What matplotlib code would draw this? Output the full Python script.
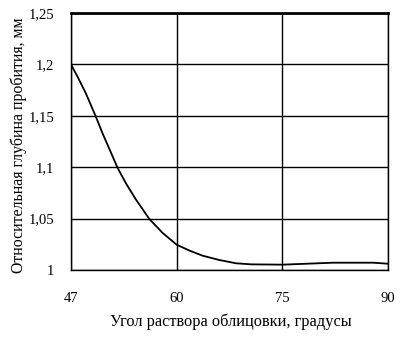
import numpy as np
import matplotlib
matplotlib.use("Agg")
import matplotlib.pyplot as plt
from matplotlib.ticker import FuncFormatter

# Data
angle = [47, 47.8, 48.82, 50.05, 50.87, 51.77, 52.74, 53.78, 55.01, 56.64,
         58.28, 60, 61.78, 63.69, 66.07, 68.45, 70.6, 75, 78.44, 82.2, 87.9, 90]
depth = [1.200, 1.1881, 1.1720, 1.1493, 1.1331, 1.1169, 1.0992, 1.0840,
         1.0683, 1.0496, 1.0360, 1.0246, 1.0190, 1.0139, 1.0097, 1.0065,
         1.0055, 1.0052, 1.0061, 1.0071, 1.0071, 1.0061]
x_ticks = [47, 60, 75, 90]
y_ticks = [1.0, 1.05, 1.1, 1.15, 1.2, 1.25]
x_label = "Угол раствора облицовки, градусы"
y_label = "Относительная глубина пробития, мм"

plt.rcParams['font.family'] = ['Liberation Serif', 'DejaVu Serif']

fig = plt.figure(figsize=(4.01, 3.54), dpi=100)
ax = fig.add_axes([71/401, 1 - 270/354, (388-71)/401, (270-13)/354])

pos = np.arange(len(x_ticks), dtype=float)
fwd = lambda v: np.interp(v, x_ticks, pos)
inv = lambda v: np.interp(v, pos, x_ticks)
ax.set_xscale('function', functions=(fwd, inv))

ax.plot(angle, depth, color='black', lw=1.3, solid_joinstyle='round')
ax.set_xlim(47, 90)
ax.set_ylim(1.0, 1.25)
ax.set_xticks(x_ticks)
ax.set_yticks(y_ticks)
ax.xaxis.set_major_formatter(FuncFormatter(lambda v, p: f"{v:g}"))
ax.yaxis.set_major_formatter(FuncFormatter(lambda v, p: f"{v:g}".replace('.', ',')))
ax.tick_params(length=0, labelsize=10.5)
ax.tick_params(axis='x', pad=16)
ax.tick_params(axis='y', pad=12)
ax.grid(True, color='black', lw=1)
for s in ax.spines.values():
    s.set_linewidth(1)
    s.set_color('black')
ax.spines['top'].set_linewidth(2)

ax.set_xlabel(x_label, fontsize=11.8)
ax.set_ylabel(y_label, fontsize=11.4)
ax.xaxis.set_label_coords((231 - 71) / (388 - 71), -(322 - 270) / (270 - 13))
ax.yaxis.set_label_coords(-(71 - 19) / (388 - 71), (270 - 145) / (270 - 13))
ax.xaxis.label.set_va('center')
ax.yaxis.label.set_va('center')

fig.savefig("out.png", dpi=100)
